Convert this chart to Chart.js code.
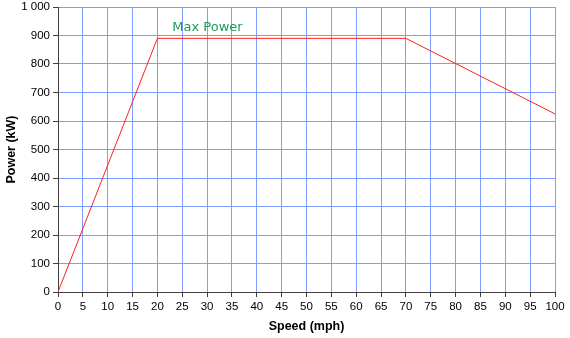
<!DOCTYPE html>
<html>
<head>
<meta charset="utf-8">
<script src="https://cdn.jsdelivr.net/npm/chart.js@4/dist/chart.umd.min.js"></script>
<style>
  html, body { margin: 0; padding: 0; background: #fff; }
  #wrap { width: 570px; height: 338px; }
</style>
</head>
<body>
<div id="wrap"><canvas id="power-chart" width="570" height="338"></canvas></div>
<script>
// Speed (mph) vs power (kW)
const speedMph = [0, 20, 70, 100];
const powerKw = [0, 890, 890, 625];
const noteText = 'Max Power';
const notePos = { x: 23, y: 926 };

const gridBlue = '#7c9cff';
const axisGrey = '#404040';

// draw the "Max Power" note at data coordinates
const notePlugin = {
    id: 'note',
    afterDatasetsDraw(chart) {
        const ctx = chart.ctx;
        const x = chart.scales.x.getPixelForValue(notePos.x);
        const y = chart.scales.y.getPixelForValue(notePos.y);
        ctx.save();
        ctx.font = '13px "DejaVu Sans", Verdana, sans-serif';
        ctx.fillStyle = '#1f9a55';
        ctx.textAlign = 'left';
        ctx.textBaseline = 'middle';
        ctx.fillText(noteText, x, y);
        ctx.restore();
    },
};

const ctxPower = document.getElementById('power-chart').getContext('2d');
const powerChart = new Chart(ctxPower, {
    type: 'scatter',
    data: {
        datasets: [
            {
                label: 'Power',
                data: speedMph.map((s, i) => ({ x: s, y: powerKw[i] })),
                showLine: true,
                borderColor: '#ff2020',
                borderWidth: 1,
                pointRadius: 0,
                fill: false,
            },
        ],
    },
    options: {
        responsive: false,
        animation: false,
        layout: { padding: { left: 0, top: 0, right: 15, bottom: 0 } },
        scales: {
            x: {
                type: 'linear',
                min: 0,
                max: 100,
                afterFit(scale) { scale.height = 46; },
                border: { color: axisGrey, width: 1 },
                grid: { color: gridBlue, tickColor: axisGrey, tickLength: 5 },
                ticks: {
                    stepSize: 5,
                    color: '#000',
                    padding: 3,
                    maxRotation: 0,
                    autoSkip: false,
                    font: { family: '"Liberation Sans", Arial, sans-serif', size: 11.5 },
                },
                title: {
                    display: true,
                    text: 'Speed (mph)',
                    color: '#000',
                    padding: { top: 4 },
                    font: { family: '"Liberation Sans", Arial, sans-serif', size: 12.5, weight: 'bold' },
                },
            },
            y: {
                type: 'linear',
                min: 0,
                max: 1000,
                afterFit(scale) { scale.width = 58; scale.paddingTop = 7; },
                border: { color: axisGrey, width: 1 },
                grid: { color: gridBlue, tickColor: axisGrey, tickLength: 5 },
                ticks: {
                    stepSize: 100,
                    color: '#000',
                    padding: 3,
                    font: { family: '"Liberation Sans", Arial, sans-serif', size: 11.5 },
                    callback: v => v >= 1000 ? '1 000' : String(v),
                },
                title: {
                    display: true,
                    text: 'Power (kW)',
                    color: '#000',
                    padding: { bottom: 2 },
                    font: { family: '"Liberation Sans", Arial, sans-serif', size: 12.5, weight: 'bold' },
                },
            },
        },
        plugins: {
            legend: { display: false },
            tooltip: { enabled: false },
        },
    },
    plugins: [notePlugin],
});
</script>
</body>
</html>
